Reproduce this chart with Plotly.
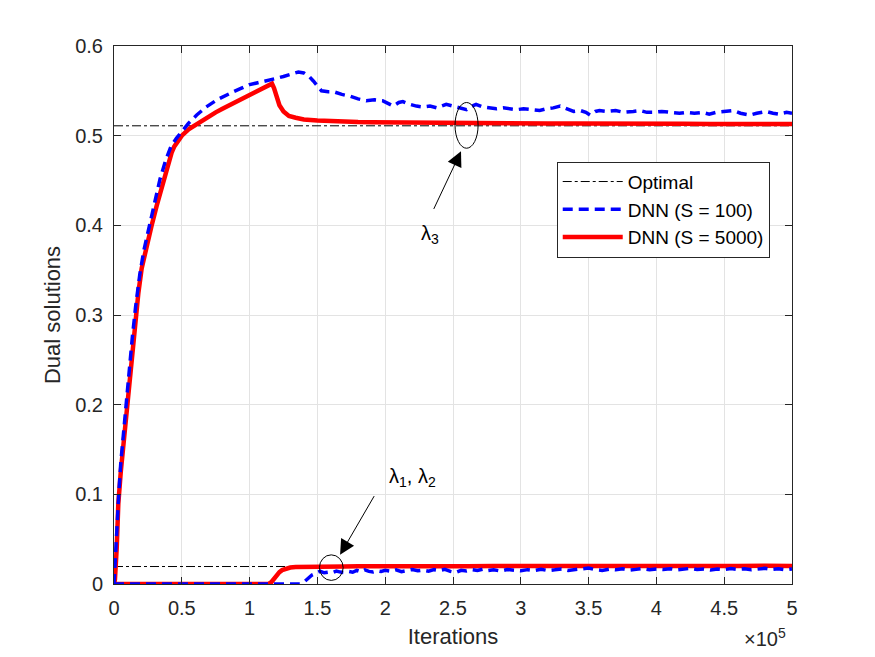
import plotly.graph_objects as go

# x values are in units of 1e5 iterations
optimal_l3 = 0.511
optimal_l12 = 0.0195
x_range = [0, 5]

# lambda_3, DNN (S = 5000)
s5000_l3 = [(0, 0), (0.007, 0.005), (0.02, 0.04), (0.032, 0.09), (0.05, 0.125), (0.069, 0.155),
            (0.085, 0.18), (0.106, 0.21), (0.125, 0.245), (0.155, 0.293), (0.18, 0.325), (0.204, 0.352),
            (0.24, 0.378), (0.278, 0.40), (0.315, 0.422), (0.352, 0.443), (0.39, 0.463), (0.425, 0.481),
            (0.445, 0.488), (0.47, 0.494), (0.5, 0.500), (0.55, 0.507), (0.6, 0.512), (0.65, 0.516),
            (0.7, 0.521), (0.75, 0.526), (0.8, 0.530), (0.85, 0.534), (0.9, 0.538), (0.95, 0.542),
            (1.0, 0.546), (1.05, 0.550), (1.1, 0.553), (1.15, 0.557), (1.165, 0.558), (1.18, 0.553),
            (1.2, 0.543), (1.22, 0.534), (1.25, 0.527), (1.29, 0.522), (1.34, 0.520), (1.4, 0.518),
            (1.5, 0.517), (1.6, 0.516), (1.7, 0.5157), (1.8, 0.5152), (1.9, 0.515), (2.0, 0.5148),
            (2.2, 0.5145), (2.4, 0.514), (2.6, 0.5142), (2.8, 0.5138), (3.0, 0.514), (3.2, 0.5135),
            (3.4, 0.5137), (3.6, 0.5133), (3.8, 0.5135), (4.0, 0.513), (4.2, 0.5133), (4.4, 0.513),
            (4.6, 0.5132), (4.8, 0.5128), (5.0, 0.513)]

# lambda_3, DNN (S = 100)
s100_l3 = [(0, 0), (0.01, 0.035), (0.02, 0.065), (0.035, 0.10), (0.05, 0.135), (0.07, 0.17),
           (0.09, 0.20), (0.11, 0.235), (0.135, 0.275), (0.16, 0.31), (0.19, 0.345), (0.22, 0.372),
           (0.26, 0.40), (0.30, 0.428), (0.34, 0.452), (0.38, 0.472), (0.42, 0.488), (0.46, 0.497),
           (0.5, 0.504), (0.55, 0.514), (0.61, 0.523), (0.68, 0.532), (0.76, 0.540), (0.82, 0.545),
           (0.88, 0.549), (0.94, 0.553), (1.0, 0.557), (1.06, 0.559), (1.13, 0.562), (1.2, 0.564),
           (1.25, 0.566), (1.3, 0.568), (1.36, 0.571), (1.4, 0.570), (1.44, 0.566), (1.47, 0.561),
           (1.5, 0.555), (1.53, 0.550), (1.58, 0.549), (1.62, 0.549), (1.68, 0.546), (1.74, 0.544),
           (1.8, 0.541), (1.86, 0.539), (1.92, 0.540), (1.98, 0.539), (2.02, 0.536), (2.06, 0.533),
           (2.1, 0.537), (2.13, 0.538), (2.18, 0.535), (2.23, 0.533), (2.28, 0.532), (2.33, 0.533),
           (2.38, 0.531), (2.42, 0.533), (2.45, 0.535), (2.5, 0.533), (2.55, 0.531), (2.6, 0.529),
           (2.64, 0.533), (2.67, 0.535), (2.72, 0.532), (2.77, 0.531), (2.82, 0.530), (2.87, 0.531),
           (2.92, 0.530), (2.97, 0.529), (3.02, 0.530), (3.08, 0.529), (3.14, 0.528), (3.19, 0.530),
           (3.24, 0.531), (3.29, 0.533), (3.34, 0.530), (3.39, 0.527), (3.44, 0.528), (3.48, 0.526),
           (3.51, 0.523), (3.55, 0.527), (3.58, 0.528), (3.64, 0.527), (3.7, 0.528), (3.76, 0.526),
           (3.83, 0.527), (3.88, 0.528), (3.93, 0.526), (3.98, 0.526), (4.04, 0.527), (4.1, 0.526),
           (4.17, 0.525), (4.22, 0.526), (4.28, 0.525), (4.34, 0.526), (4.39, 0.524), (4.44, 0.526),
           (4.5, 0.527), (4.57, 0.528), (4.62, 0.525), (4.66, 0.524), (4.69, 0.523), (4.74, 0.525),
           (4.78, 0.526), (4.81, 0.527), (4.86, 0.525), (4.9, 0.524), (4.96, 0.526), (5.0, 0.525)]

# lambda_1, lambda_2, DNN (S = 5000)
s5000_l12 = [(0, 0), (1.14, 0), (1.16, 0.002), (1.18, 0.006), (1.20, 0.0100), (1.22, 0.0132),
             (1.24, 0.0155), (1.27, 0.0173), (1.30, 0.0183), (1.34, 0.0189), (1.40, 0.0192),
             (1.50, 0.0194), (1.6, 0.0196), (1.7, 0.0195), (1.8, 0.0197), (1.9, 0.0196), (2.0, 0.0198),
             (2.2, 0.0197), (2.4, 0.0199), (2.6, 0.0198), (2.8, 0.0200), (3.0, 0.0199), (3.2, 0.0201),
             (3.4, 0.0200), (3.6, 0.0201), (3.8, 0.0200), (4.0, 0.0202), (4.2, 0.0201), (4.4, 0.0202),
             (4.6, 0.0201), (4.8, 0.0203), (5.0, 0.0202)]

# lambda_1, lambda_2, DNN (S = 100)
s100_l12 = [(0, 0), (1.37, 0), (1.40, 0.002), (1.43, 0.006), (1.46, 0.010), (1.49, 0.012),
            (1.52, 0.0142), (1.55, 0.0125), (1.58, 0.0132), (1.61, 0.0128), (1.64, 0.0145),
            (1.67, 0.0133), (1.70, 0.0128), (1.73, 0.0140), (1.76, 0.0131), (1.79, 0.0152),
            (1.82, 0.0136), (1.85, 0.0158), (1.88, 0.0141), (1.91, 0.0135), (1.94, 0.0148),
            (1.97, 0.0139), (2.00, 0.0152), (2.04, 0.0143), (2.08, 0.0158), (2.12, 0.0138),
            (2.16, 0.0150), (2.20, 0.0162), (2.24, 0.0147), (2.28, 0.0155), (2.32, 0.0143),
            (2.36, 0.0160), (2.40, 0.0150), (2.44, 0.0163), (2.48, 0.0141), (2.52, 0.0128),
            (2.56, 0.0152), (2.60, 0.0146), (2.64, 0.0160), (2.68, 0.0152), (2.72, 0.0166),
            (2.76, 0.0150), (2.80, 0.0158), (2.85, 0.0145), (2.90, 0.0162), (2.95, 0.0152),
            (3.00, 0.0147), (3.05, 0.0160), (3.10, 0.0151), (3.15, 0.0165), (3.20, 0.0150),
            (3.25, 0.0158), (3.30, 0.0168), (3.35, 0.0152), (3.40, 0.0161), (3.45, 0.0172),
            (3.50, 0.0178), (3.55, 0.0160), (3.60, 0.0152), (3.65, 0.0165), (3.70, 0.0158),
            (3.75, 0.0170), (3.80, 0.0155), (3.85, 0.0163), (3.90, 0.0172), (3.95, 0.0160),
            (4.00, 0.0168), (4.05, 0.0162), (4.10, 0.0171), (4.15, 0.0158), (4.20, 0.0166),
            (4.25, 0.0174), (4.30, 0.0161), (4.35, 0.0168), (4.40, 0.0155), (4.45, 0.0167),
            (4.50, 0.0160), (4.55, 0.0172), (4.60, 0.0163), (4.65, 0.0170), (4.70, 0.0158),
            (4.75, 0.0166), (4.80, 0.0175), (4.85, 0.0162), (4.90, 0.0170), (4.95, 0.0158),
            (5.00, 0.0168)]

x_ticks = [0, 0.5, 1, 1.5, 2, 2.5, 3, 3.5, 4, 4.5, 5]
y_ticks = [0, 0.1, 0.2, 0.3, 0.4, 0.5, 0.6]

FONT = "Liberation Sans, Arial, Helvetica, sans-serif"
TXT = "#262626"
BLUE = "#0000ff"
RED = "#ff0000"


def xs(p):
    return [a for a, _ in p]


def ys(p):
    return [b for _, b in p]


fig = go.Figure()

fig.add_trace(go.Scatter(x=x_range, y=[optimal_l3] * 2, mode="lines", name="Optimal",
                         line=dict(color="black", width=1, dash="dashdot"), legendrank=1))
fig.add_trace(go.Scatter(x=x_range, y=[optimal_l12] * 2, mode="lines", showlegend=False,
                         line=dict(color="black", width=1, dash="dashdot")))
fig.add_trace(go.Scatter(x=xs(s5000_l3), y=ys(s5000_l3), mode="lines", name="DNN (S = 5000)",
                         line=dict(color=RED, width=4.5), legendrank=3))
fig.add_trace(go.Scatter(x=xs(s5000_l12), y=ys(s5000_l12), mode="lines", showlegend=False,
                         line=dict(color=RED, width=4.5)))
fig.add_trace(go.Scatter(x=xs(s100_l3), y=ys(s100_l3), mode="lines", name="DNN (S = 100)",
                         line=dict(color=BLUE, width=3.5, dash="10px,6px"), legendrank=2))
fig.add_trace(go.Scatter(x=xs(s100_l12), y=ys(s100_l12), mode="lines", showlegend=False,
                         line=dict(color=BLUE, width=3.5, dash="10px,6px")))

axis_common = dict(showline=True, linecolor=TXT, linewidth=1, mirror="ticks", ticks="inside",
                   ticklen=7, tickcolor=TXT, gridcolor="#e3e3e3", gridwidth=1, zeroline=False,
                   tickfont=dict(family=FONT, size=20, color=TXT), ticklabelstandoff=6)

fig.update_layout(
    width=875, height=657,
    margin=dict(l=114, r=83, t=46, b=73),
    paper_bgcolor="white", plot_bgcolor="white",
    font=dict(family=FONT, color=TXT),
    xaxis=dict(range=x_range, tickvals=x_ticks, ticktext=[f"{v:g}" for v in x_ticks],
               title=dict(text="Iterations", font=dict(family=FONT, size=22, color=TXT), standoff=10),
               automargin=False, **axis_common),
    yaxis=dict(range=[0, 0.6], tickvals=y_ticks, ticktext=[f"{v:g}" for v in y_ticks],
               title=dict(text="Dual solutions", font=dict(family=FONT, size=22, color=TXT), standoff=8),
               automargin=False, **axis_common),
    legend=dict(x=0.653, y=0.785, xanchor="left", yanchor="top", bgcolor="white",
                bordercolor=TXT, borderwidth=1, font=dict(family=FONT, size=19, color="black"),
                itemwidth=60, tracegroupgap=0),
    showlegend=True,
)

# ellipses marking the curves
fig.add_shape(type="circle", xref="x", yref="y", x0=2.515, x1=2.685, y0=0.486, y1=0.537,
              line=dict(color="black", width=1))
fig.add_shape(type="circle", xref="x", yref="y", x0=1.515, x1=1.69, y0=0.004, y1=0.0325,
              line=dict(color="black", width=1))

# arrows and labels
fig.add_annotation(x=2.559, y=0.4826, ax=2.353, ay=0.4166, xref="x", yref="y", axref="x", ayref="y",
                   text="", showarrow=True, arrowhead=2, arrowsize=3, arrowwidth=1, arrowcolor="black")
fig.add_annotation(x=2.33, y=0.39, xref="x", yref="y", text="λ<sub>3</sub>", showarrow=False,
                   font=dict(family=FONT, size=20, color="black"))
fig.add_annotation(x=1.667, y=0.0325, ax=1.925, ay=0.0997, xref="x", yref="y", axref="x", ayref="y",
                   text="", showarrow=True, arrowhead=2, arrowsize=3, arrowwidth=1, arrowcolor="black")
fig.add_annotation(x=2.2, y=0.119, xref="x", yref="y", text="λ<sub>1</sub>, λ<sub>2</sub>",
                   showarrow=False, font=dict(family=FONT, size=20, color="black"))
fig.add_annotation(x=0.96, y=-0.1, xref="paper", yref="paper", text="×10<sup>5</sup>",
                   showarrow=False, xanchor="center", yanchor="middle",
                   font=dict(family=FONT, size=20, color=TXT))

fig.write_html("out.html")
